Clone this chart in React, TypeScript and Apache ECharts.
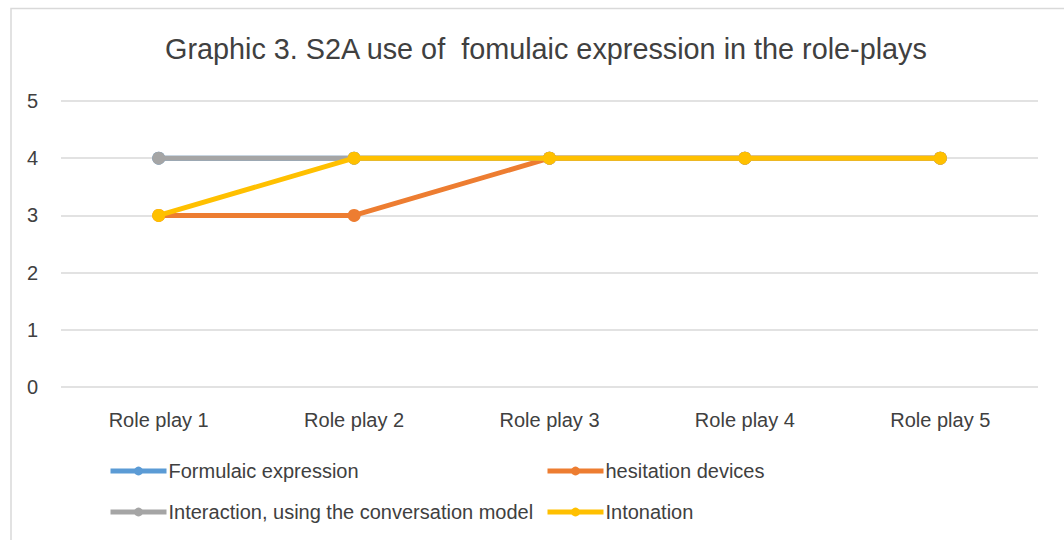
import React, { useEffect, useRef } from "react";
import * as echarts from "echarts";

const categories = ["Role play 1", "Role play 2", "Role play 3", "Role play 4", "Role play 5"];
const yTicks = [0, 1, 2, 3, 4, 5];
const seriesNames = [
  "Formulaic expression",
  "hesitation devices",
  "Interaction, using the conversation model",
  "Intonation",
];
const formulaic = [4, 4, 4, 4, 4];
const hesitation = [3, 3, 4, 4, 4];
const interaction = [4, 4, 4, 4, 4];
const intonation = [3, 4, 4, 4, 4];
const colors = ["#5B9BD5", "#ED7D31", "#A5A5A5", "#FFC000"];

const FONT = "'Liberation Sans', Arial, sans-serif";

export default function App() {
  const ref = useRef<HTMLDivElement>(null);
  useEffect(() => {
    document.body.style.margin = "0";
    const chart = echarts.init(ref.current!, null, { renderer: "svg" });
    const data = [formulaic, hesitation, interaction, intonation];
    const legendPos = [
      { left: 108, top: 461 },
      { left: 545, top: 461 },
      { left: 108, top: 502 },
      { left: 545, top: 502 },
    ];
    chart.setOption({
      animation: false,
      backgroundColor: "#ffffff",
      title: {
        text: "Graphic 3. S2A use of  fomulaic expression in the role-plays",
        left: 160,
        top: 29,
        textStyle: { fontFamily: FONT, fontSize: 28.8, fontWeight: "normal", color: "#404040" },
      },
      graphic: [
        {
          type: "polyline",
          shape: { points: [[11, 540], [11, 8.5], [1064, 8.5]] },
          style: { stroke: "#D9D9D9", lineWidth: 1.5, fill: "none" },
        },
      ],
      legend: legendPos.map((p, i) => ({
        data: [seriesNames[i]],
        left: p.left,
        top: p.top,
        padding: 0,
        itemWidth: 56,
        itemHeight: 11,
        itemGap: 4,
        lineStyle: { width: 5 },
        textStyle: { fontFamily: FONT, fontSize: 20, color: "#404040", padding: [0, 0, 0, -3] },
      })),
      grid: { left: 61, right: 26, top: 101, bottom: 153 },
      xAxis: {
        type: "category",
        data: categories,
        boundaryGap: true,
        axisLine: { show: false },
        axisTick: { show: false },
        axisLabel: { fontFamily: FONT, fontSize: 20, color: "#404040", margin: 23 },
      },
      yAxis: {
        type: "value",
        min: yTicks[0],
        max: yTicks[yTicks.length - 1],
        interval: 1,
        axisLabel: { fontFamily: FONT, fontSize: 20, color: "#404040", margin: 23 },
        splitLine: { lineStyle: { color: "#D9D9D9", width: 1.5 } },
        axisLine: { show: false },
        axisTick: { show: false },
      },
      series: data.map((d, i) => ({
        name: seriesNames[i],
        type: "line",
        data: d,
        symbol: "circle",
        symbolSize: 13,
        color: colors[i],
        lineStyle: { width: 5, color: colors[i] },
        itemStyle: { color: colors[i] },
        z: 2 + i,
      })),
    });
    return () => chart.dispose();
  }, []);
  return <div ref={ref} style={{ width: 1064, height: 540 }} />;
}
